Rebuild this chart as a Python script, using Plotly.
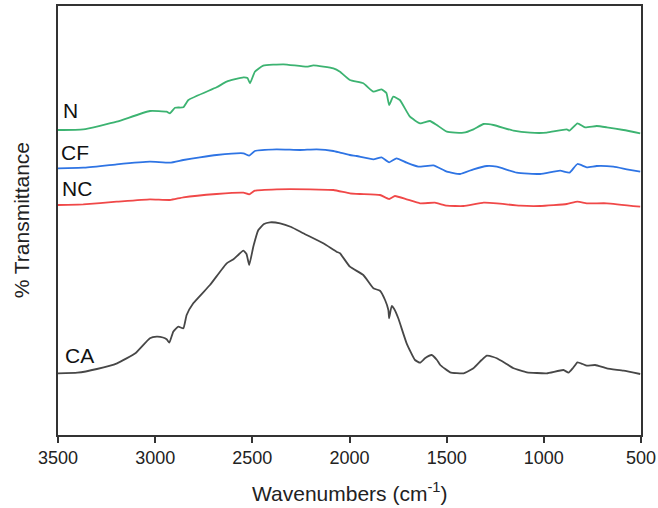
import plotly.graph_objects as go

# ---- data (wavenumber cm^-1, transmittance in arbitrary offset units) ----
ca_w = [3500, 3400, 3300, 3196, 3100, 3027, 2992, 2960, 2941, 2927, 2907, 2881, 2855, 2838, 2804,
        2718, 2632, 2597, 2546, 2530, 2516, 2495, 2469, 2440, 2409, 2357, 2300, 2238, 2135, 2067,
        2049, 1998, 1929, 1877, 1843, 1817, 1800, 1796, 1783, 1770, 1749, 1706, 1663, 1637, 1610,
        1577, 1550, 1533, 1482, 1413, 1362, 1320, 1293, 1260, 1242, 1200, 1156, 1087, 985, 899,
        873, 850, 827, 800, 779, 736, 676, 590, 504]
ca_t = [61.7, 62.3, 66.0, 71.7, 82.0, 96.7, 98.3, 97.5, 95.7, 92.3, 103.3, 108.3, 106.7, 120.0, 131.7,
        150.0, 171.7, 175.7, 184.3, 181.0, 170.0, 188.3, 205.0, 211.0, 212.7, 211.7, 208.0, 201.7, 191.7, 183.3,
        181.7, 168.3, 160.0, 146.7, 144.3, 135.0, 125.0, 116.7, 129.0, 126.0, 116.7, 91.7, 75.0, 72.3, 77.0,
        80.0, 75.0, 70.0, 62.7, 61.7, 66.7, 75.0, 79.3, 78.0, 76.7, 72.0, 66.7, 62.7, 61.7, 65.0,
        62.3, 67.0, 72.7, 71.0, 69.3, 70.0, 66.7, 64.3, 61.0]

n_w = [3500, 3370, 3198, 3027, 2941, 2924, 2898, 2855, 2829, 2684, 2632, 2546, 2525, 2512, 2487,
       2444, 2340, 2220, 2186, 2083, 2049, 1998, 1929, 1877, 1835, 1810, 1796, 1775, 1741, 1689,
       1637, 1586, 1551, 1499, 1413, 1362, 1310, 1259, 1156, 1070, 985, 882, 868, 827, 788,
       728, 676, 590, 504]
n_t = [305.0, 305.7, 313.3, 324.0, 323.3, 321.7, 327.3, 327.7, 335.0, 347.7, 353.3, 357.7, 357.0, 351.7, 363.3,
       369.3, 370.7, 368.3, 369.7, 366.7, 363.3, 355.0, 351.7, 343.3, 345.7, 342.0, 330.0, 338.3, 335.0, 318.3,
       311.7, 314.0, 310.0, 303.3, 302.3, 305.7, 311.0, 310.0, 304.3, 302.3, 302.3, 305.7, 304.3, 311.7, 307.7,
       309.0, 307.7, 305.0, 301.7]

cf_w = [3500, 3370, 3198, 3027, 2924, 2855, 2770, 2684, 2546, 2516, 2487, 2375, 2255, 2169, 2083,
        2049, 1998, 1963, 1877, 1835, 1796, 1758, 1706, 1646, 1568, 1499, 1431, 1362, 1293, 1242,
        1139, 1019, 916, 868, 827, 779, 728, 642, 573, 504]
cf_t = [266.7, 267.3, 270.7, 273.3, 272.3, 275.0, 277.7, 280.0, 281.7, 279.3, 284.0, 285.7, 285.0, 285.7, 284.0,
        282.3, 280.0, 279.0, 275.7, 277.7, 272.7, 276.7, 272.3, 268.3, 269.7, 263.3, 261.0, 265.7, 269.0, 268.3,
        262.3, 261.0, 264.3, 262.3, 271.0, 267.7, 269.0, 268.3, 265.7, 263.3]

nc_w = [3500, 3370, 3198, 3027, 2924, 2855, 2684, 2546, 2516, 2487, 2375, 2203, 2083, 1998, 1947,
        1843, 1796, 1766, 1706, 1637, 1560, 1499, 1413, 1310, 1242, 1122, 1019, 882, 827, 779,
        676, 504]
nc_t = [230.0, 230.7, 233.3, 235.7, 235.0, 237.7, 241.0, 242.3, 240.7, 244.3, 245.7, 245.7, 245.0, 241.7, 241.0,
        240.0, 236.0, 239.0, 235.7, 231.7, 232.3, 229.3, 229.0, 232.3, 231.7, 229.3, 229.0, 231.0, 233.3, 231.7,
        231.7, 228.3]

series_names = ["N", "CF", "NC", "CA"]
label_pos_w = [3438, 3412, 3402, 3387]
label_pos_t = [325, 283, 247, 80]
x_ticks = [3500, 3000, 2500, 2000, 1500, 1000, 500]

colors = {"N": "#3cb371", "CF": "#2e74e4", "NC": "#f04848", "CA": "#474747"}
data = {"N": (n_w, n_t), "CF": (cf_w, cf_t), "NC": (nc_w, nc_t), "CA": (ca_w, ca_t)}

FONT = "Arial, 'Liberation Sans', sans-serif"

fig = go.Figure()
for name in series_names:
    w, t = data[name]
    fig.add_trace(go.Scatter(x=w, y=t, mode="lines", name=name,
                             line=dict(color=colors[name], width=1.8, shape="spline", smoothing=0.4),
                             showlegend=False))

for name, lw, lt in zip(series_names, label_pos_w, label_pos_t):
    fig.add_annotation(x=lw, y=lt, xref="x", yref="y", text=name, showarrow=False,
                       font=dict(family=FONT, size=21, color="#111111"), xanchor="center", yanchor="middle")

fig.add_annotation(x=0.5, y=-0.133, xref="paper", yref="paper", text="Wavenumbers (cm<sup>-1</sup>)",
                   showarrow=False, font=dict(family=FONT, size=21, color="#222222"),
                   xanchor="center", yanchor="middle")
fig.add_annotation(x=-0.062, y=0.5, xref="paper", yref="paper", text="% Transmittance",
                   showarrow=False, textangle=-90, font=dict(family=FONT, size=21, color="#222222"),
                   xanchor="center", yanchor="middle")

fig.update_xaxes(range=[3500, 500], tickvals=x_ticks, ticktext=[str(v) for v in x_ticks],
                 ticks="outside", ticklen=6, tickwidth=1.5, tickcolor="#333333",
                 showline=True, linecolor="#333333", linewidth=1.5, mirror=True,
                 showgrid=False, zeroline=False, automargin=False,
                 tickfont=dict(family=FONT, size=18, color="#222222"))
fig.update_yaxes(range=[0, 429], showticklabels=False, ticks="",
                 showline=True, linecolor="#333333", linewidth=1.5, mirror=True,
                 showgrid=False, zeroline=False, automargin=False)

fig.update_layout(width=658, height=508, margin=dict(l=58, r=17, t=6, b=73, autoexpand=False),
                  paper_bgcolor="white", plot_bgcolor="white",
                  font=dict(family=FONT))

fig.write_html("out.html", config={"displayModeBar": False},
               post_script="document.body.style.margin='0';document.body.style.overflow='hidden';")
